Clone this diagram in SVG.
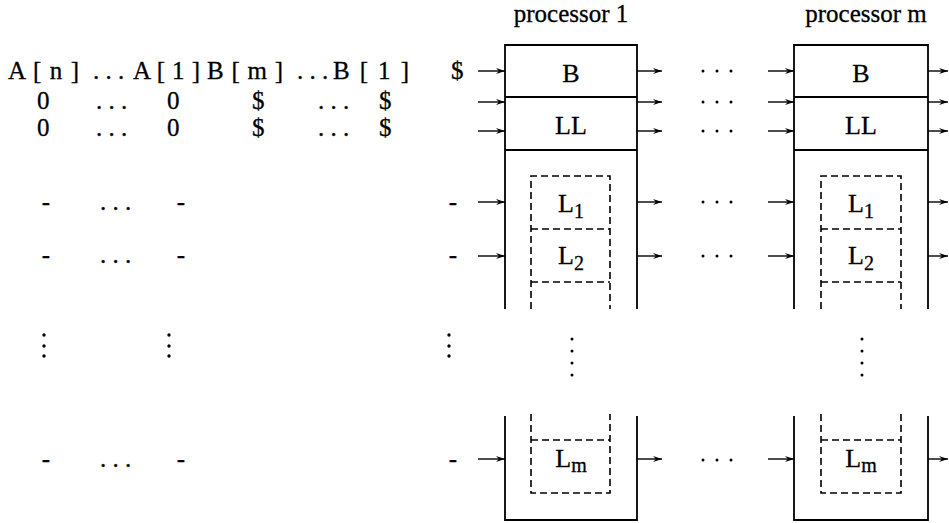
<svg xmlns="http://www.w3.org/2000/svg" width="949" height="523" viewBox="0 0 949 523">
<defs>
<style>
text{font-family:"Liberation Serif","Times New Roman",serif;font-size:25px;fill:#000;stroke:#000;stroke-width:0.3}
.c{text-anchor:middle}
.lab{font-size:26px}
.sub{font-size:20px}
.box{stroke:#000;stroke-width:1.8;fill:none}
.dash{stroke:#000;stroke-width:1.6;fill:none;stroke-dasharray:7,4}
.arr{stroke:#000;stroke-width:1.4;fill:none;marker-end:url(#ah)}
.dot{fill:#000}
</style>
<marker id="ah" markerWidth="10" markerHeight="8" refX="9" refY="4" orient="auto" markerUnits="userSpaceOnUse">
<path d="M0,1 L9,4 L0,7 L3,4 z" fill="#000"/>
</marker>
</defs>
<rect width="949" height="523" fill="#fff"/>

<g id="input-table">
<text x="8" y="79" textLength="71" lengthAdjust="spacing">A [ n ]</text>
<text x="93" y="79">. . .</text>
<text x="133" y="79" textLength="67" lengthAdjust="spacing">A [ 1 ]</text>
<text x="207" y="79" textLength="76" lengthAdjust="spacing">B [ m ]</text>
<text x="297" y="79">. . .</text>
<text x="333" y="79" textLength="76" lengthAdjust="spacing">B [ 1 ]</text>
<text x="451" y="79">$</text>

<text x="37" y="109">0</text>
<text x="96" y="109">. . .</text>
<text x="167" y="109">0</text>
<text x="252" y="109">$</text>
<text x="318" y="109">. . .</text>
<text x="379" y="109">$</text>

<text x="37" y="136">0</text>
<text x="96" y="136">. . .</text>
<text x="167" y="136">0</text>
<text x="252" y="136">$</text>
<text x="318" y="136">. . .</text>
<text x="379" y="136">$</text>

<text class="c" x="46" y="210">-</text>
<text x="100" y="210">. . .</text>
<text class="c" x="181" y="210">-</text>
<text class="c" x="453" y="210">-</text>

<text class="c" x="46" y="263">-</text>
<text x="100" y="263">. . .</text>
<text class="c" x="181" y="263">-</text>
<text class="c" x="453" y="263">-</text>

<circle class="dot" cx="44" cy="335" r="1.7"/><circle class="dot" cx="44" cy="346" r="1.7"/><circle class="dot" cx="44" cy="356" r="1.7"/>
<circle class="dot" cx="169" cy="335" r="1.7"/><circle class="dot" cx="169" cy="346" r="1.7"/><circle class="dot" cx="169" cy="356" r="1.7"/>
<circle class="dot" cx="449" cy="335" r="1.7"/><circle class="dot" cx="449" cy="346" r="1.7"/><circle class="dot" cx="449" cy="356" r="1.7"/>

<text class="c" x="46" y="467">-</text>
<text x="100" y="467">. . .</text>
<text class="c" x="181" y="467">-</text>
<text class="c" x="453" y="467">-</text>
</g>

<g id="processor-1">
<text class="c" x="571" y="22">processor 1</text>
<path class="box" d="M505,309 V45 H637 V309 M505,97 H637 M505,150 H637 M505,416 V520 H637 V416"/>
<path class="dash" d="M531,309 V176 H610 V309 M531,229 H610 M531,282 H610 M531,414 V493 H610 V414 M531,440 H610"/>
<text class="c lab" x="571" y="82">B</text>
<text class="c lab" x="571" y="134">LL</text>
<text class="c lab" x="571" y="212">L<tspan class="sub" dy="6">1</tspan></text>
<text class="c lab" x="571" y="264">L<tspan class="sub" dy="6">2</tspan></text>
<text class="c lab" x="571" y="467">L<tspan class="sub" dy="5">m</tspan></text>
<circle class="dot" cx="572" cy="339" r="1.5"/><circle class="dot" cx="572" cy="351" r="1.5"/><circle class="dot" cx="572" cy="363" r="1.5"/><circle class="dot" cx="572" cy="375" r="1.5"/>
</g>

<g id="processor-m">
<text class="c" x="866" y="22">processor m</text>
<path class="box" d="M794,309 V45 H928 V309 M794,97 H928 M794,150 H928 M794,416 V520 H928 V416"/>
<path class="dash" d="M821,309 V176 H901 V309 M821,229 H901 M821,282 H901 M821,414 V493 H901 V414 M821,440 H901"/>
<text class="c lab" x="861" y="82">B</text>
<text class="c lab" x="861" y="134">LL</text>
<text class="c lab" x="861" y="212">L<tspan class="sub" dy="6">1</tspan></text>
<text class="c lab" x="861" y="264">L<tspan class="sub" dy="6">2</tspan></text>
<text class="c lab" x="861" y="467">L<tspan class="sub" dy="5">m</tspan></text>
<circle class="dot" cx="862" cy="339" r="1.5"/><circle class="dot" cx="862" cy="351" r="1.5"/><circle class="dot" cx="862" cy="363" r="1.5"/><circle class="dot" cx="862" cy="375" r="1.5"/>
</g>

<g id="between-dots">
<g class="dot">
<circle cx="703" cy="71" r="1.5"/><circle cx="717" cy="71" r="1.5"/><circle cx="731" cy="71" r="1.5"/>
<circle cx="703" cy="102" r="1.5"/><circle cx="717" cy="102" r="1.5"/><circle cx="731" cy="102" r="1.5"/>
<circle cx="703" cy="131" r="1.5"/><circle cx="717" cy="131" r="1.5"/><circle cx="731" cy="131" r="1.5"/>
<circle cx="703" cy="202" r="1.5"/><circle cx="717" cy="202" r="1.5"/><circle cx="731" cy="202" r="1.5"/>
<circle cx="703" cy="256" r="1.5"/><circle cx="717" cy="256" r="1.5"/><circle cx="731" cy="256" r="1.5"/>
<circle cx="703" cy="460" r="1.5"/><circle cx="717" cy="460" r="1.5"/><circle cx="731" cy="460" r="1.5"/>
</g>
</g>

<g id="connectors">
<path class="arr" d="M478,71 H505"/><path class="arr" d="M478,102 H505"/><path class="arr" d="M478,131 H505"/>
<path class="arr" d="M478,202 H505"/><path class="arr" d="M478,256 H505"/><path class="arr" d="M478,459 H505"/>
<path class="arr" d="M637,71 H662"/><path class="arr" d="M637,102 H662"/><path class="arr" d="M637,131 H662"/>
<path class="arr" d="M637,202 H662"/><path class="arr" d="M637,256 H662"/><path class="arr" d="M637,459 H662"/>
<path class="arr" d="M768,71 H794"/><path class="arr" d="M768,102 H794"/><path class="arr" d="M768,131 H794"/>
<path class="arr" d="M768,202 H794"/><path class="arr" d="M768,256 H794"/><path class="arr" d="M768,459 H794"/>
<path class="arr" d="M928,71 H948"/><path class="arr" d="M928,102 H948"/><path class="arr" d="M928,131 H948"/>
<path class="arr" d="M928,202 H948"/><path class="arr" d="M928,256 H948"/><path class="arr" d="M928,459 H948"/>
</g>
</svg>
